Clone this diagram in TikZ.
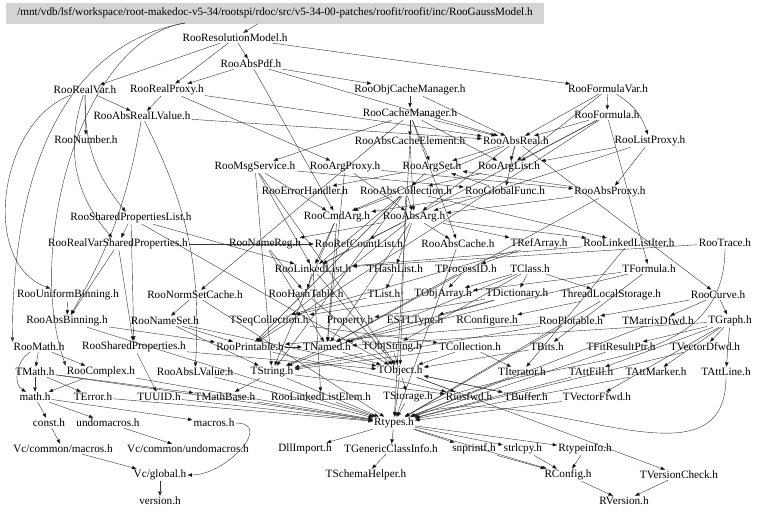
\documentclass[tikz,border=0pt]{standalone}
\usepackage{fontspec}
\setmainfont{Liberation Serif}
\usetikzlibrary{arrows.meta}
\newcommand\hdrfont{\fontsize{11.2}{13}\selectfont}
\tikzset{
    hdr/.style={inner sep=1pt, font=\hdrfont},
    dep/.style={draw=black!80, line width=0.4pt, -{Triangle[length=4.5pt,width=3.5pt]}},
}

\begin{document}
\begin{tikzpicture}[x=1pt, y=-1pt]
        \useasboundingbox (0,0) rectangle (768,514);

        % the file itself
        \node [hdr, fill=black!17, minimum width=538pt, minimum height=21pt] (title) at (275,13)
            {/mnt/vdb/lsf/workspace/root-makedoc-v5-34/rootspi/rdoc/src/v5-34-00-patches/roofit/roofit/inc/RooGaussModel.h};
        \coordinate (titleleft) at (185,23);

        % RooFit headers
        \node [hdr] (resmodel) at (235,38) {RooResolutionModel.h};
        \node [hdr] (abspdf) at (251,64) {RooAbsPdf.h};
        \node [hdr] (realvar) at (85,90) {RooRealVar.h};
        \node [hdr] (realproxy) at (167,90) {RooRealProxy.h};
        \node [hdr] (objcachemgr) at (410,90) {RooObjCacheManager.h};
        \node [hdr] (formulavar) at (608,89) {RooFormulaVar.h};
        \node [hdr] (absreallv) at (142,116) {RooAbsRealLValue.h};
        \node [hdr] (cachemgr) at (410,114) {RooCacheManager.h};
        \node [hdr] (formula) at (607,115) {RooFormula.h};
        \node [hdr] (number) at (86,140) {RooNumber.h};
        \node [hdr] (abscacheel) at (410,141) {RooAbsCacheElement.h};
        \node [hdr] (absreal) at (516,141) {RooAbsReal.h};
        \node [hdr] (listproxy) at (650,141) {RooListProxy.h};
        \node [hdr] (msgservice) at (255,167) {RooMsgService.h};
        \node [hdr] (argproxy) at (345,167) {RooArgProxy.h};
        \node [hdr] (argset) at (432,167) {RooArgSet.h};
        \node [hdr] (arglist) at (509,167) {RooArgList.h};
        \node [hdr] (errorhandler) at (305,191) {RooErrorHandler.h};
        \node [hdr] (abscoll) at (406,191) {RooAbsCollection.h};
        \node [hdr] (globalfunc) at (505,191) {RooGlobalFunc.h};
        \node [hdr] (absproxy) at (610,192) {RooAbsProxy.h};
        \node [hdr] (sharedproplist) at (131,218) {RooSharedPropertiesList.h};
        \node [hdr] (cmdarg) at (337,217) {RooCmdArg.h};
        \node [hdr] (absarg) at (414,217) {RooAbsArg.h};
        \node [hdr] (realvarshared) at (118,244) {RooRealVarSharedProperties.h};
        \node [hdr] (namereg) at (265,244) {RooNameReg.h};
        \node [hdr] (refcountlist) at (359,244) {RooRefCountList.h};
        \node [hdr] (abscache) at (458,244) {RooAbsCache.h};
        \node [hdr] (trefarray) at (539,244) {TRefArray.h};
        \node [hdr] (linkedlistiter) at (629,243) {RooLinkedListIter.h};
        \node [hdr] (trace) at (725,243) {RooTrace.h};
        \node [hdr] (linkedlist) at (313,269) {RooLinkedList.h};
        \node [hdr] (thashlist) at (395,269) {THashList.h};
        \node [hdr] (tprocessid) at (466,269) {TProcessID.h};
        \node [hdr] (tclass) at (530,269) {TClass.h};
        \node [hdr] (tformula) at (649,269) {TFormula.h};
        \node [hdr] (unibinning) at (68,295) {RooUniformBinning.h};
        \node [hdr] (normsetcache) at (195,295) {RooNormSetCache.h};
        \node [hdr] (hashtable) at (306,294) {RooHashTable.h};
        \node [hdr] (tlist) at (384,294) {TList.h};
        \node [hdr] (tobjarray) at (443,294) {TObjArray.h};
        \node [hdr] (tdictionary) at (517,294) {TDictionary.h};
        \node [hdr] (tls) at (611,295) {ThreadLocalStorage.h};
        \node [hdr] (curve) at (718,295) {RooCurve.h};
        \node [hdr] (absbinning) at (67,321) {RooAbsBinning.h};
        \node [hdr] (nameset) at (165,321) {RooNameSet.h};
        \node [hdr] (tseqcoll) at (269,321) {TSeqCollection.h};
        \node [hdr] (property) at (350,321) {Property.h};
        \node [hdr] (estltype) at (415,321) {ESTLType.h};
        \node [hdr] (rconfigure) at (487,321) {RConfigure.h};
        \node [hdr] (plotable) at (571,321) {RooPlotable.h};
        \node [hdr] (tmatrixdfwd) at (658,321) {TMatrixDfwd.h};
        \node [hdr] (tgraph) at (730,321) {TGraph.h};
        \node [hdr] (roomath) at (39,347) {RooMath.h};
        \node [hdr] (sharedprops) at (134,347) {RooSharedProperties.h};
        \node [hdr] (printable) at (250,347) {RooPrintable.h};
        \node [hdr] (tnamed) at (327,347) {TNamed.h};
        \node [hdr] (tobjstring) at (392,347) {TObjString.h};
        \node [hdr] (tcollection) at (470,347) {TCollection.h};
        \node [hdr] (tbits) at (547,347) {TBits.h};
        \node [hdr] (tfitresultptr) at (621,347) {TFitResultPtr.h};
        \node [hdr] (tvectordfwd) at (705,347) {TVectorDfwd.h};
        \node [hdr] (tmath) at (35,372) {TMath.h};
        \node [hdr] (complex) at (101,372) {RooComplex.h};
        \node [hdr] (abslvalue) at (195,372) {RooAbsLValue.h};
        \node [hdr] (tstring) at (272,372) {TString.h};
        \node [hdr] (tobject) at (400,371) {TObject.h};
        \node [hdr] (titerator) at (522,372) {TIterator.h};
        \node [hdr] (tattfill) at (591,372) {TAttFill.h};
        \node [hdr] (tattmarker) at (656,372) {TAttMarker.h};
        \node [hdr] (tattline) at (726,372) {TAttLine.h};
        \node [hdr] (mathh) at (35,397) {math.h};
        \node [hdr] (terror) at (93,397) {TError.h};
        \node [hdr] (tuuid) at (159,397) {TUUID.h};
        \node [hdr] (tmathbase) at (225,397) {TMathBase.h};
        \node [hdr] (linkedlistelem) at (321,397) {RooLinkedListElem.h};
        \node [hdr] (tstorage) at (408,397) {TStorage.h};
        \node [hdr] (riosfwd) at (469,397) {Riosfwd.h};
        \node [hdr] (tbuffer) at (526,397) {TBuffer.h};
        \node [hdr] (tvectorffwd) at (597,397) {TVectorFfwd.h};
        \node [hdr] (consth) at (49,423) {const.h};
        \node [hdr] (undomacros) at (108,423) {undomacros.h};
        \node [hdr] (macros) at (214,423) {macros.h};
        \node [hdr] (rtypes) at (394,423) {Rtypes.h};
        \node [hdr] (vcmacros) at (63,449) {Vc/common/macros.h};
        \node [hdr] (vcundomacros) at (188,449) {Vc/common/undomacros.h};
        \node [hdr] (dllimport) at (305,449) {DllImport.h};
        \node [hdr] (tgenclassinfo) at (391,449) {TGenericClassInfo.h};
        \node [hdr] (snprintf) at (474,449) {snprintf.h};
        \node [hdr] (strlcpy) at (523,449) {strlcpy.h};
        \node [hdr] (rtypeinfo) at (585,449) {Rtypeinfo.h};
        \node [hdr] (vcglobal) at (160,475) {Vc/global.h};
        \node [hdr] (tschemahelper) at (366,475) {TSchemaHelper.h};
        \node [hdr] (rconfig) at (568,475) {RConfig.h};
        \node [hdr] (tversioncheck) at (679,475) {TVersionCheck.h};
        \node [hdr] (version) at (160,501) {version.h};
        \node [hdr] (rversion) at (624,501) {RVersion.h};

        % include edges
        \draw [dep] (title) -- (resmodel);
        \draw [dep] (titleleft) .. controls (60,45) and (12,180) .. (roomath.north west);
        \draw [dep] (titleleft) .. controls (80,40) and (25,250) .. (complex.north west);
        \path [dep]
            (resmodel) edge (abspdf) edge (realvar) edge (realproxy) edge (formulavar)
            (abspdf) edge (objcachemgr) edge (absreal) edge (cmdarg) edge (realproxy)
            (realvar) edge (absreallv) edge (number) edge [out=200, in=160] (unibinning)
                edge [bend right=20] (sharedproplist) edge [bend right=30] (realvarshared)
            (realproxy) edge (absreallv) edge (argproxy) edge (absreal)
            (objcachemgr) edge (cachemgr) edge (absreal)
            (formulavar) edge (formula) edge [bend left=20] (listproxy) edge (absreal) edge (arglist)
            (absreallv) edge (absreal) edge [bend left=10] (absbinning) edge [bend left=15] (abslvalue)
            (cachemgr) edge (abscacheel) edge (absreal) edge (argset) edge (arglist)
                edge (msgservice) edge (normsetcache) edge (abscache)
            (formula) edge (absreal) edge (arglist) edge (tformula) edge (linkedlist) edge (printable)
            (abscacheel) edge (absarg) edge (rtypes)
            (absreal) edge (absarg) edge (cmdarg) edge (curve) edge (argset) edge (arglist) edge (globalfunc)
            (listproxy) edge (absproxy) edge (arglist) edge (absarg)
            (msgservice) edge (globalfunc) edge (cmdarg) edge (linkedlist) edge (tobject) edge (tstring)
            (argproxy) edge (absproxy) edge (absarg) edge (tnamed)
            (argset) edge (abscoll) edge (errorhandler)
            (arglist) edge (abscoll)
            (abscoll) edge (absarg) edge (printable) edge (linkedlist) edge (cmdarg)
                edge (linkedlistiter) edge (tobject) edge (tstring)
            (globalfunc) edge (cmdarg) edge (argset)
            (absproxy) edge (tnamed) edge (absarg) edge (argset)
            (sharedproplist) edge (realvarshared) edge (sharedprops) edge (linkedlist) edge (tobject)
            (cmdarg) edge (tnamed) edge (tstring) edge (linkedlist)
            (absarg) edge (tnamed) edge (thashlist) edge (trefarray) edge (printable)
                edge (refcountlist) edge (abscache) edge (linkedlistiter) edge (namereg)
            (realvarshared) edge (sharedprops) edge (refcountlist) edge (absbinning)
            (namereg) edge (tnamed) edge (hashtable)
            (refcountlist) edge (linkedlist)
            (abscache) edge (rtypes)
            (trefarray) edge (tseqcoll) edge (tprocessid)
            (linkedlistiter) edge (titerator) edge (linkedlist)
            (trace) edge (linkedlist) edge [out=270, in=30] (rtypes)
            (linkedlist) edge (tobject) edge (linkedlistelem) edge (hashtable)
            (thashlist) edge (tlist)
            (tprocessid) edge (tnamed) edge (tobjarray)
            (tclass) edge (tdictionary) edge (tstring) edge (tobjarray) edge (tobjstring) edge (tls)
            (tformula) edge (tnamed) edge (tbits) edge (tobjarray)
            (unibinning) edge (absbinning)
            (normsetcache) edge (nameset) edge (rtypes)
            (hashtable) edge (tobject)
            (tlist) edge (tseqcoll)
            (tobjarray) edge (tseqcoll)
            (tdictionary) edge (tnamed) edge (property) edge (estltype)
            (tls) edge (rconfigure) edge (rtypes)
            (curve) edge (tgraph) edge (plotable) edge (tmatrixdfwd)
            (absbinning) edge (rtypes) edge (printable)
            (nameset) edge (tstring) edge (tobject) edge (printable)
            (tseqcoll) edge (tcollection)
            (plotable) edge (rtypes) edge (tstring) edge (printable)
            (tgraph) edge (tnamed) edge (tattline) edge (tattfill) edge (tattmarker)
                edge (tvectorffwd) edge (tvectordfwd) edge (tfitresultptr)
            (tmatrixdfwd) edge (rtypes)
            (roomath) edge (tmath) edge (complex) edge [out=210, in=150] (mathh)
            (sharedprops) edge (tobject) edge (tuuid)
            (printable) edge (tnamed) edge (riosfwd)
            (tnamed) edge (tobject) edge (tstring)
            (tobjstring) edge (tobject) edge (tstring)
            (tcollection) edge (tobject) edge (titerator) edge (tstring)
            (tbits) edge (tobject)
            (tfitresultptr) edge (rtypes)
            (tvectordfwd) edge (rtypes)
            (tmath) edge (mathh) edge (rtypes) edge (tmathbase) edge (terror)
            (complex) edge (mathh) edge (rtypes)
            (abslvalue) edge (rtypes)
            (tstring) edge (tmathbase) edge (riosfwd) edge (rtypes)
            (tobject) edge (rtypes) edge (tstorage) edge (tversioncheck) edge (riosfwd) edge (tbuffer)
            (titerator) edge (rtypes)
            (tattfill) edge (rtypes)
            (tattmarker) edge (rtypes)
            (tattline) edge [out=270, in=20] (rtypes)
            (mathh) edge (consth) edge (undomacros) edge (macros)
            (terror) edge (rtypes)
            (tuuid) edge (rtypes)
            (tmathbase) edge (rtypes)
            (linkedlistelem) edge (rtypes)
            (tstorage) edge (rtypes)
            (tbuffer) edge (tobject)
            (tvectorffwd) edge (rtypes)
            (consth) edge (vcmacros)
            (undomacros) edge (vcundomacros)
            (macros) edge [out=0, in=0, looseness=1.4] (vcglobal)
            (vcmacros) edge (vcglobal)
            (vcglobal) edge (version)
            (rtypes) edge (rconfig) edge (dllimport) edge (tgenclassinfo) edge (snprintf)
                edge (strlcpy) edge (rtypeinfo)
            (tgenclassinfo) edge (tschemahelper)
            (snprintf) edge (rconfig)
            (strlcpy) edge (rconfig)
            (rtypeinfo) edge (rconfig)
            (tversioncheck) edge (rversion)
            (rconfig) edge (rversion)
            ;
\end{tikzpicture}
\end{document}
